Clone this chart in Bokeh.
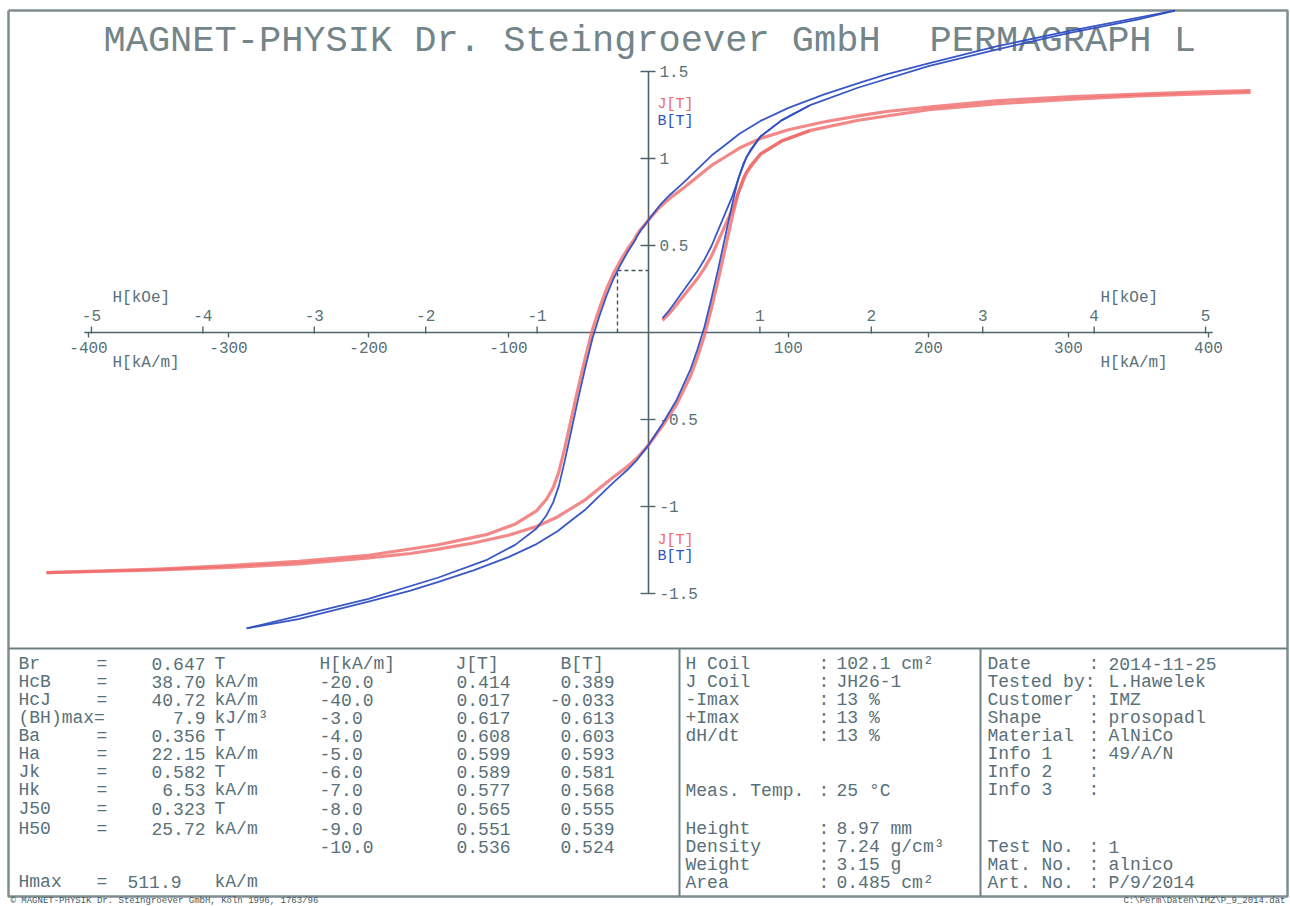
from bokeh.plotting import figure
from bokeh.models import Range1d
from bokeh.core.properties import value
from bokeh.embed import file_html
from bokeh.resources import INLINE

# ---------------- data ----------------
# J (polarisation) descending branch, H in kA/m, J in T
H_J_desc = [430, 400, 350, 300, 250, 200, 170, 150, 125, 100, 80, 65, 55, 45, 35, 25, 15, 8, 0,
            -3, -4, -5, -6, -7, -8, -9, -10, -15, -20, -25, -30, -35, -40, -45, -50, -55, -60,
            -64, -68, -73, -80, -95, -115, -150, -200, -250, -300, -350, -400, -430]
J_desc = [1.39, 1.385, 1.37, 1.355, 1.333, 1.295, 1.27, 1.245, 1.21, 1.165, 1.115, 1.06, 1.01,
          0.96, 0.895, 0.83, 0.77, 0.72, 0.647, 0.617, 0.608, 0.599, 0.589, 0.577, 0.565, 0.551,
          0.536, 0.48, 0.414, 0.34, 0.25, 0.14, 0.017, -0.14, -0.31, -0.49, -0.67, -0.80, -0.89,
          -0.96, -1.025, -1.10, -1.16, -1.22, -1.28, -1.315, -1.34, -1.36, -1.372, -1.38]
# J ascending branch
H_J_asc = [-430, -400, -350, -300, -250, -200, -170, -150, -125, -100, -80, -65, -55, -45, -35,
           -25, -15, -8, 0, 10, 20, 30, 35, 40, 45, 50, 55, 60, 64, 68, 73, 80, 95, 115, 150, 200,
           250, 300, 350, 400, 430]
J_asc = [-1.38, -1.375, -1.365, -1.35, -1.33, -1.295, -1.27, -1.245, -1.21, -1.165, -1.115,
         -1.06, -1.01, -0.96, -0.895, -0.83, -0.77, -0.72, -0.647, -0.536, -0.414, -0.25, -0.14,
         -0.017, 0.14, 0.31, 0.49, 0.67, 0.80, 0.89, 0.96, 1.025, 1.10, 1.16, 1.22, 1.28, 1.315,
         1.34, 1.36, 1.372, 1.38]
# J initial (virgin) curve
H_J_init = [10, 15, 20, 25, 30, 35, 40, 45, 50, 55, 60, 65, 70, 80, 95, 115]
J_init = [0.07, 0.11, 0.16, 0.21, 0.26, 0.31, 0.37, 0.44, 0.53, 0.62, 0.71, 0.82, 0.92, 1.025,
          1.10, 1.16]

# B (induction) descending branch
H_B_desc = [376, 350, 300, 250, 200, 170, 150, 125, 100, 80, 65, 55, 45, 35, 25, 15, 8, 0,
            -3, -4, -5, -6, -7, -8, -9, -10, -15, -20, -25, -30, -35, -40, -45, -50, -55, -60,
            -64, -68, -73, -80, -95, -115, -150, -200, -250, -287]
B_desc = [1.85, 1.81, 1.732, 1.647, 1.546, 1.484, 1.433, 1.367, 1.291, 1.216, 1.142, 1.079,
          1.017, 0.939, 0.861, 0.789, 0.730, 0.647, 0.613, 0.603, 0.593, 0.581, 0.568, 0.555,
          0.539, 0.524, 0.461, 0.389, 0.309, 0.212, 0.096, -0.033, -0.197, -0.373, -0.559,
          -0.745, -0.88, -0.975, -1.052, -1.126, -1.219, -1.305, -1.408, -1.531, -1.629, -1.70]
# B ascending branch
H_B_asc = [-287, -250, -200, -170, -150, -125, -100, -80, -65, -55, -45, -35, -25, -15, -8, 0,
           10, 20, 30, 35, 40, 45, 50, 55, 60, 64, 68, 73, 80, 95, 115, 150, 200, 250, 300, 350,
           376]
B_asc = [-1.70, -1.647, -1.546, -1.484, -1.433, -1.367, -1.291, -1.216, -1.142, -1.079, -1.017,
         -0.939, -0.861, -0.789, -0.730, -0.647, -0.524, -0.389, -0.212, -0.096, 0.033, 0.197,
         0.373, 0.559, 0.745, 0.88, 0.975, 1.052, 1.126, 1.219, 1.305, 1.408, 1.531, 1.629, 1.72,
         1.80, 1.85]
# B initial curve
H_B_init = [10, 15, 20, 25, 30, 35, 40, 45, 50, 55, 60, 65, 70, 80, 95, 115]
B_init = [0.083, 0.129, 0.185, 0.241, 0.298, 0.354, 0.42, 0.497, 0.593, 0.689, 0.785, 0.902,
          1.008, 1.126, 1.219, 1.305]

# (BH)max working point
Ha_point = -22.15
Ba_point = 0.356

# axis ticks
x_ticks_kAm = [-400, -300, -200, -100, 100, 200, 300, 400]
x_tick_labels_kAm = ["-400", "-300", "-200", "-100", "100", "200", "300", "400"]
x_ticks_kOe = [-5, -4, -3, -2, -1, 1, 2, 3, 4, 5]
x_tick_labels_kOe = ["-5", "-4", "-3", "-2", "-1", "1", "2", "3", "4", "5"]
KAM_PER_KOE = 79.5775
y_ticks = [1.5, 1.0, 0.5, -0.5, -1.0, -1.5]
y_tick_labels = ["1.5", "1", "0.5", "-0.5", "-1", "-1.5"]

# table texts
res_labels = ["Br", "HcB", "HcJ", "(BH)max=", "Ba", "Ha", "Jk", "Hk", "J50", "H50"]
res_eq = ["=", "=", "=", "", "=", "=", "=", "=", "=", "="]
res_values = ["0.647", "38.70", "40.72", "7.9", "0.356", "22.15", "0.582", "6.53", "0.323", "25.72"]
res_units = ["T", "kA/m", "kA/m", "kJ/m³", "T", "kA/m", "T", "kA/m", "T", "kA/m"]
hmax_label, hmax_value, hmax_unit = "Hmax", "511.9", "kA/m"

tab_H = ["-20.0", "-40.0", "-3.0", "-4.0", "-5.0", "-6.0", "-7.0", "-8.0", "-9.0", "-10.0"]
tab_J = ["0.414", "0.017", "0.617", "0.608", "0.599", "0.589", "0.577", "0.565", "0.551", "0.536"]
tab_B = ["0.389", "-0.033", "0.613", "0.603", "0.593", "0.581", "0.568", "0.555", "0.539", "0.524"]

coil_labels = ["H Coil", "J Coil", "-Imax", "+Imax", "dH/dt"]
coil_values = ["102.1 cm²", "JH26-1", "13 %", "13 %", "13 %"]
temp_label, temp_value = "Meas. Temp.", "25 °C"
sample_labels = ["Height", "Density", "Weight", "Area"]
sample_values = ["8.97 mm", "7.24 g/cm³", "3.15 g", "0.485 cm²"]

info_labels = ["Date", "Tested by:", "Customer", "Shape", "Material", "Info 1", "Info 2", "Info 3"]
info_colons = [":", "", ":", ":", ":", ":", ":", ":"]
info_values = ["2014-11-25", "L.Hawelek", "IMZ", "prosopadl", "AlNiCo", "49/A/N", "", ""]
test_labels = ["Test No.", "Mat. No.", "Art. No."]
test_values = ["1", "alnico", "P/9/2014"]

title_left = "MAGNET-PHYSIK Dr. Steingroever GmbH"
title_right = "PERMAGRAPH L"
footer_left = "© MAGNET-PHYSIK Dr. Steingroever GmbH, Köln 1996, 1763/96"
footer_right = "C:\\Perm\\Daten\\IMZ\\P_9_2014.dat"

# ---------------- layout (pixels) ----------------
W, HGT = 1290, 906
X0, Y0 = 648.0, 332.0      # pixel of the origin
SX, SY = 1.4, 174.0        # px per kA/m, px per T

RED = "#ef6a6a"
BLUE = "#2f4fc2"
AXC = "#4f656b"
TXT = "#587078"
TITLE_C = "#74858a"
MONO = value("Liberation Mono")

p = figure(width=W, height=HGT, output_backend="svg", toolbar_location=None,
           x_range=Range1d(-X0 / SX, (W - X0) / SX),
           y_range=Range1d(-(HGT - Y0) / SY, Y0 / SY),
           x_axis_location=None, y_axis_location=None, min_border=0,
           outline_line_color=None, background_fill_color="white",
           border_fill_color="white")
p.grid.visible = False
p.extra_x_ranges = {"px": Range1d(0, W)}
p.extra_y_ranges = {"py": Range1d(HGT, 0)}

PX = dict(x_range_name="px", y_range_name="py")

# frame and table separators
p.line([8, 1287, 1287, 8, 8], [10, 10, 896, 896, 10], line_color="#7f8d91", line_width=2.5, **PX)
p.line([8, 1287], [648, 648], line_color="#6f8085", line_width=2, **PX)
p.segment(x0=[679, 980], y0=[648, 648], x1=[679, 980], y1=[896, 896],
          line_color="#6f8085", line_width=2, **PX)

# title
p.text(x=[103], y=[40], text=[title_left], text_font=MONO, text_font_size="37px",
       text_color=TITLE_C, text_baseline="middle", text_align="left", **PX)
p.text(x=[929], y=[40], text=[title_right], text_font=MONO, text_font_size="37px",
       text_color=TITLE_C, text_baseline="middle", text_align="left", **PX)

# ---- axes drawn at the origin ----
p.line([-403, 403], [0, 0], line_color=AXC, line_width=1.6)
p.line([0, 0], [-1.5, 1.5], line_color=AXC, line_width=1.6)
# x ticks (kA/m below, kOe above)
p.segment(x0=x_ticks_kAm, x1=x_ticks_kAm, y0=[332] * len(x_ticks_kAm), y1=[337] * len(x_ticks_kAm),
          line_color=AXC, line_width=1.4, y_range_name="py")
kOe_pos = [k * KAM_PER_KOE for k in x_ticks_kOe]
p.segment(x0=kOe_pos, x1=kOe_pos, y0=[326] * len(kOe_pos), y1=[333] * len(kOe_pos),
          line_color=AXC, line_width=1.4, y_range_name="py")
p.text(x=x_ticks_kAm, y=[347] * len(x_ticks_kAm), text=x_tick_labels_kAm, text_font=MONO,
       text_font_size="16px", text_color=TXT, text_align="center", text_baseline="middle",
       y_range_name="py")
p.text(x=kOe_pos, y=[315] * len(kOe_pos), text=x_tick_labels_kOe, text_font=MONO,
       text_font_size="16px", text_color=TXT, text_align="center", text_baseline="middle",
       y_range_name="py")
p.text(x=[112, 1100], y=[297, 297], text=["H[kOe]", "H[kOe]"], text_font=MONO,
       text_font_size="16px", text_color=TXT, text_baseline="middle", **PX)
p.text(x=[112, 1100], y=[362, 362], text=["H[kA/m]", "H[kA/m]"], text_font=MONO,
       text_font_size="16px", text_color=TXT, text_baseline="middle", **PX)
# y ticks
p.segment(x0=[640] * len(y_ticks), x1=[655] * len(y_ticks), y0=y_ticks, y1=y_ticks,
          line_color=AXC, line_width=1.4, x_range_name="px")
p.text(x=[659] * len(y_ticks), y=y_ticks, text=y_tick_labels, text_font=MONO,
       text_font_size="16px", text_color=TXT, text_baseline="middle", x_range_name="px")
p.text(x=[657, 657], y=[104, 540], text=["J[T]", "J[T]"], text_font=MONO, text_font_size="15px",
       text_color=RED, text_baseline="middle", **PX)
p.text(x=[657, 657], y=[121, 556], text=["B[T]", "B[T]"], text_font=MONO, text_font_size="15px",
       text_color=BLUE, text_baseline="middle", **PX)

# (BH)max working point marker lines
p.line([Ha_point, Ha_point], [0, Ba_point], line_color="#44555a", line_width=1.4, line_dash="4 3")
p.line([Ha_point, 0], [Ba_point, Ba_point], line_color="#44555a", line_width=1.4, line_dash="4 3")

# ---- curves ----
for hx, jy in ((H_J_desc, J_desc), (H_J_asc, J_asc), (H_J_init, J_init)):
    p.line(hx, jy, line_color=RED, line_width=3.2, line_alpha=0.8, line_join="round")
for hx, by in ((H_B_desc, B_desc), (H_B_asc, B_asc), (H_B_init, B_init)):
    p.line(hx, by, line_color=BLUE, line_width=1.8, line_alpha=0.95, line_join="round")

# ---- table ----
rows_y = [663, 681, 699, 717, 735, 753, 771, 789, 808, 828, 846, 864, 882]
TF = dict(text_font=MONO, text_font_size="18px", text_color=TXT, text_baseline="middle", **PX)

n = len(res_labels)
p.text(x=[18] * n, y=rows_y[:n], text=res_labels, text_align="left", **TF)
p.text(x=[96] * n, y=rows_y[:n], text=res_eq, text_align="left", **TF)
p.text(x=[205] * n, y=rows_y[:n], text=res_values, text_align="right", **TF)
p.text(x=[214] * n, y=rows_y[:n], text=res_units, text_align="left", **TF)
p.text(x=[18, 96, 181, 214], y=[881] * 4, text=[hmax_label, "=", hmax_value, hmax_unit],
       text_align=["left", "left", "right", "left"], **TF)

m = len(tab_H)
p.text(x=[319, 455, 560], y=[rows_y[0]] * 3, text=["H[kA/m]", "J[T]", "B[T]"], text_align="left", **TF)
p.text(x=[319] * m, y=rows_y[1:m + 1], text=tab_H, text_align="left", **TF)
p.text(x=[510] * m, y=rows_y[1:m + 1], text=tab_J, text_align="right", **TF)
p.text(x=[614] * m, y=rows_y[1:m + 1], text=tab_B, text_align="right", **TF)

k = len(coil_labels)
p.text(x=[685] * k, y=rows_y[:k], text=coil_labels, text_align="left", **TF)
p.text(x=[818] * k, y=rows_y[:k], text=[":"] * k, text_align="left", **TF)
p.text(x=[836] * k, y=rows_y[:k], text=coil_values, text_align="left", **TF)
p.text(x=[685, 818, 836], y=[790] * 3, text=[temp_label, ":", temp_value], text_align="left", **TF)
s = len(sample_labels)
p.text(x=[685] * s, y=rows_y[9:9 + s], text=sample_labels, text_align="left", **TF)
p.text(x=[818] * s, y=rows_y[9:9 + s], text=[":"] * s, text_align="left", **TF)
p.text(x=[836] * s, y=rows_y[9:9 + s], text=sample_values, text_align="left", **TF)

q = len(info_labels)
p.text(x=[987] * q, y=rows_y[:q], text=info_labels, text_align="left", **TF)
p.text(x=[1088] * q, y=rows_y[:q], text=info_colons, text_align="left", **TF)
p.text(x=[1108] * q, y=rows_y[:q], text=info_values, text_align="left", **TF)
t = len(test_labels)
p.text(x=[987] * t, y=rows_y[10:10 + t], text=test_labels, text_align="left", **TF)
p.text(x=[1088] * t, y=rows_y[10:10 + t], text=[":"] * t, text_align="left", **TF)
p.text(x=[1108] * t, y=rows_y[10:10 + t], text=test_values, text_align="left", **TF)

# footer (below the frame)
p.text(x=[10], y=[905], text=[footer_left], text_font=MONO, text_font_size="9px",
       text_color="#46585e", text_baseline="bottom", text_align="left", **PX)
p.text(x=[1285], y=[905], text=[footer_right], text_font=MONO, text_font_size="9px",
       text_color="#46585e", text_baseline="bottom", text_align="right", **PX)

open("out.html", "w").write(file_html(p, INLINE))
